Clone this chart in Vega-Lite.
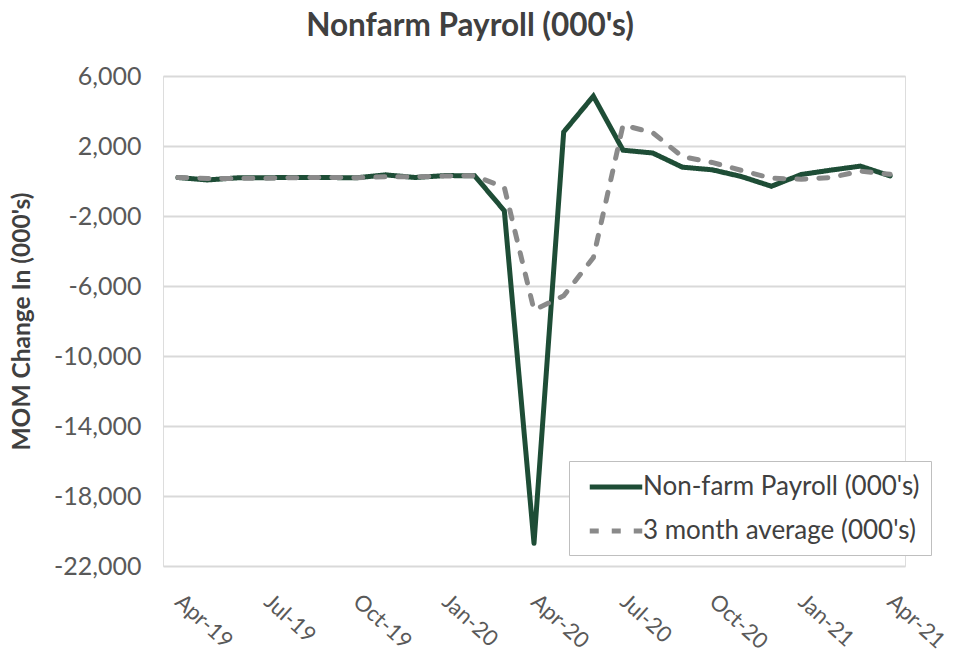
{
  "$schema": "https://vega.github.io/schema/vega-lite/v6.json",
  "width": 742,
  "height": 490,
  "autosize": "none",
  "padding": {"left": 163, "top": 76, "right": 48, "bottom": 99},
  "background": "white",
  "title": {
    "text": "Nonfarm Payroll (000's)",
    "font": "Lato",
    "fontSize": 31.5,
    "fontWeight": "bold",
    "color": "#404040",
    "anchor": "middle",
    "dx": -64,
    "offset": 22
  },
  "data": {
    "values": [
      {"month": "Apr-19", "series": "Non-farm Payroll (000's)", "value": 200},
      {"month": "May-19", "series": "Non-farm Payroll (000's)", "value": 60},
      {"month": "Jun-19", "series": "Non-farm Payroll (000's)", "value": 180},
      {"month": "Jul-19", "series": "Non-farm Payroll (000's)", "value": 190},
      {"month": "Aug-19", "series": "Non-farm Payroll (000's)", "value": 200},
      {"month": "Sep-19", "series": "Non-farm Payroll (000's)", "value": 200},
      {"month": "Oct-19", "series": "Non-farm Payroll (000's)", "value": 180},
      {"month": "Nov-19", "series": "Non-farm Payroll (000's)", "value": 350},
      {"month": "Dec-19", "series": "Non-farm Payroll (000's)", "value": 200},
      {"month": "Jan-20", "series": "Non-farm Payroll (000's)", "value": 310},
      {"month": "Feb-20", "series": "Non-farm Payroll (000's)", "value": 300},
      {"month": "Mar-20", "series": "Non-farm Payroll (000's)", "value": -1700},
      {"month": "Apr-20", "series": "Non-farm Payroll (000's)", "value": -20700},
      {"month": "May-20", "series": "Non-farm Payroll (000's)", "value": 2800},
      {"month": "Jun-20", "series": "Non-farm Payroll (000's)", "value": 4850},
      {"month": "Jul-20", "series": "Non-farm Payroll (000's)", "value": 1760},
      {"month": "Aug-20", "series": "Non-farm Payroll (000's)", "value": 1600},
      {"month": "Sep-20", "series": "Non-farm Payroll (000's)", "value": 790},
      {"month": "Oct-20", "series": "Non-farm Payroll (000's)", "value": 640},
      {"month": "Nov-20", "series": "Non-farm Payroll (000's)", "value": 250},
      {"month": "Dec-20", "series": "Non-farm Payroll (000's)", "value": -300},
      {"month": "Jan-21", "series": "Non-farm Payroll (000's)", "value": 370},
      {"month": "Feb-21", "series": "Non-farm Payroll (000's)", "value": 620},
      {"month": "Mar-21", "series": "Non-farm Payroll (000's)", "value": 850},
      {"month": "Apr-21", "series": "Non-farm Payroll (000's)", "value": 290},
      {"month": "Apr-19", "series": "3 month average (000's)", "value": 200},
      {"month": "May-19", "series": "3 month average (000's)", "value": 150},
      {"month": "Jun-19", "series": "3 month average (000's)", "value": 150},
      {"month": "Jul-19", "series": "3 month average (000's)", "value": 160},
      {"month": "Aug-19", "series": "3 month average (000's)", "value": 190},
      {"month": "Sep-19", "series": "3 month average (000's)", "value": 200},
      {"month": "Oct-19", "series": "3 month average (000's)", "value": 190},
      {"month": "Nov-19", "series": "3 month average (000's)", "value": 240},
      {"month": "Dec-19", "series": "3 month average (000's)", "value": 240},
      {"month": "Jan-20", "series": "3 month average (000's)", "value": 290},
      {"month": "Feb-20", "series": "3 month average (000's)", "value": 300},
      {"month": "Mar-20", "series": "3 month average (000's)", "value": -360},
      {"month": "Apr-20", "series": "3 month average (000's)", "value": -7370},
      {"month": "May-20", "series": "3 month average (000's)", "value": -6560},
      {"month": "Jun-20", "series": "3 month average (000's)", "value": -4380},
      {"month": "Jul-20", "series": "3 month average (000's)", "value": 3200},
      {"month": "Aug-20", "series": "3 month average (000's)", "value": 2760},
      {"month": "Sep-20", "series": "3 month average (000's)", "value": 1390},
      {"month": "Oct-20", "series": "3 month average (000's)", "value": 1060},
      {"month": "Nov-20", "series": "3 month average (000's)", "value": 600},
      {"month": "Dec-20", "series": "3 month average (000's)", "value": 160},
      {"month": "Jan-21", "series": "3 month average (000's)", "value": 100},
      {"month": "Feb-21", "series": "3 month average (000's)", "value": 200},
      {"month": "Mar-21", "series": "3 month average (000's)", "value": 560},
      {"month": "Apr-21", "series": "3 month average (000's)", "value": 380}
    ]
  },
  "mark": {"type": "line", "strokeWidth": 5, "strokeCap": "round", "strokeJoin": "miter"},
  "encoding": {
    "x": {
      "field": "month",
      "type": "ordinal",
      "sort": null,
      "scale": {"type": "point", "padding": 0.5},
      "axis": {
        "values": ["Apr-19", "Jul-19", "Oct-19", "Jan-20", "Apr-20", "Jul-20", "Oct-20", "Jan-21", "Apr-21"],
        "title": null,
        "labelAngle": 42,
        "labelAlign": "left",
        "labelBaseline": "middle",
        "labelPadding": 32,
        "labelFont": "Lato",
        "labelFontSize": 22,
        "labelColor": "#595959",
        "ticks": false,
        "domain": false,
        "grid": false
      }
    },
    "y": {
      "field": "value",
      "type": "quantitative",
      "scale": {"domain": [-22000, 6000], "nice": false, "zero": false},
      "axis": {
        "values": [6000, 2000, -2000, -6000, -10000, -14000, -18000, -22000],
        "labelExpr": "(datum.value < 0 ? '-' : '') + format(abs(datum.value), ',.0f')",
        "title": "MOM Change In (000's)",
        "titleFont": "Lato",
        "titleFontSize": 24.5,
        "titleFontWeight": "bold",
        "titleColor": "#404040",
        "titlePadding": 19,
        "labelFont": "Lato",
        "labelFontSize": 25,
        "labelColor": "#595959",
        "labelPadding": 22,
        "grid": true,
        "gridColor": "#d9d9d9",
        "gridWidth": 2,
        "domain": false,
        "ticks": false
      }
    },
    "color": {
      "field": "series",
      "type": "nominal",
      "sort": null,
      "scale": {"domain": ["Non-farm Payroll (000's)", "3 month average (000's)"], "range": ["#1e4d36", "#8a8a8a"]},
      "legend": {
        "orient": "none",
        "legendX": 406,
        "legendY": 385,
        "title": null,
        "strokeColor": "#bfbfbf",
        "fillColor": "white",
        "padding": 11,
        "symbolType": "M-2.1,0H2.1",
        "symbolSize": 625,
        "symbolOffset": 21,
        "symbolStrokeWidth": 5,
        "labelFont": "Lato",
        "labelFontSize": 26,
        "labelColor": "#404040",
        "labelLimit": 400,
        "labelOffset": 12,
        "rowPadding": 16
      }
    },
    "strokeDash": {
      "field": "series",
      "type": "nominal",
      "sort": null,
      "scale": {"domain": ["Non-farm Payroll (000's)", "3 month average (000's)"], "range": [[1, 0], [9, 13]]},
      "legend": {
        "orient": "none",
        "legendX": 406,
        "legendY": 385,
        "title": null,
        "strokeColor": "#bfbfbf",
        "fillColor": "white",
        "padding": 11,
        "symbolType": "M-2.1,0H2.1",
        "symbolSize": 625,
        "symbolOffset": 21,
        "symbolStrokeWidth": 5,
        "labelFont": "Lato",
        "labelFontSize": 26,
        "labelColor": "#404040",
        "labelLimit": 400,
        "labelOffset": 12,
        "rowPadding": 16
      }
    }
  }
}
